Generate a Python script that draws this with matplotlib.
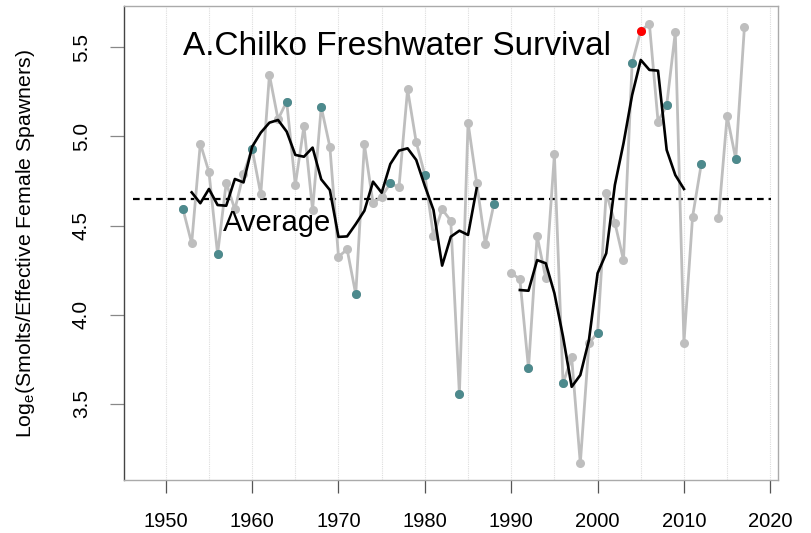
import matplotlib
matplotlib.use("Agg")
import matplotlib.pyplot as plt
import numpy as np

plt.rcParams["font.family"] = ["Liberation Sans", "DejaVu Sans"]
plt.rcParams["mathtext.default"] = "regular"

# observed log survival by brood year (NaN = missing year)
years = np.arange(1952, 2018)
survival = np.array([
    4.59, 4.40, 4.96, 4.80, 4.34, 4.74, 4.59, 4.79, 4.93, 4.675,
    5.345, 5.096, 5.195, 4.727, 5.058, 4.587, 5.165, 4.942, 4.325, 4.366,
    4.114, 4.955, 4.625, 4.662, 4.737, 4.714, 5.264, 4.967, 4.783, 4.441,
    4.591, 4.527, 3.553, 5.077, 4.740, 4.396, 4.621, np.nan, 4.232, 4.200,
    3.698, 4.441, 4.204, 4.899, 3.614, 3.760, 3.166, 3.839, 3.899, 4.684,
    4.516, 4.306, 5.410, 5.593, 5.631, 5.083, 5.174, 5.586, 3.842, 4.549,
    4.843, np.nan, 4.540, 5.114, 4.873, 5.612,
])

# dominant cycle years and highlighted year
dominant_years = np.arange(1952, 2017, 4)
highlight_year = 2005

# running mean (two segments)
smooth_years_a = np.arange(1953, 1987)
smooth_a = np.array([
    4.686, 4.625, 4.705, 4.615, 4.611, 4.761, 4.742, 4.942, 5.021, 5.077,
    5.092, 5.027, 4.896, 4.886, 4.937, 4.759, 4.699, 4.436, 4.439, 4.508,
    4.583, 4.746, 4.684, 4.845, 4.920, 4.933, 4.868, 4.722, 4.587, 4.275,
    4.437, 4.471, 4.447, 4.709,
])
smooth_years_b = np.arange(1991, 2011)
smooth_b = np.array([
    4.138, 4.134, 4.306, 4.288, 4.120, 3.876, 3.595, 3.661, 3.857, 4.232,
    4.344, 4.727, 4.961, 5.232, 5.429, 5.373, 5.369, 4.924, 4.783, 4.705,
])

average = 4.649
x_ticks = [1950, 1960, 1970, 1980, 1990, 2000, 2010, 2020]
y_ticks = [3.5, 4.0, 4.5, 5.0, 5.5]

GREY = "#BEBEBE"
TEAL = "#4D8A8D"

fig = plt.figure(figsize=(8.12, 5.33), dpi=100)
ax = fig.add_axes([0.1531, 0.0994, 0.8047, 0.8888])

for gx in np.arange(1950, 2021, 5):
    ax.axvline(gx, color="#DDDDDD", linewidth=0.8, linestyle=(0, (1, 1)), zorder=0)

ax.hlines(average, 1946.2, 2020.1, color="black", linewidth=1.6,
          linestyles=(0, (3, 2.2)), zorder=2)

ax.plot(years, survival, color=GREY, linewidth=2.0, marker="o",
        markersize=6.5, markeredgewidth=0, zorder=3)

dom_mask = np.isin(years, dominant_years)
ax.plot(years[dom_mask], survival[dom_mask], linestyle="none", marker="o",
        color=TEAL, markersize=6.5, markeredgewidth=0, zorder=4)
hl_mask = years == highlight_year
ax.plot(years[hl_mask], survival[hl_mask], linestyle="none", marker="o",
        color="#FF0000", markersize=6.5, markeredgewidth=0, zorder=4)

ax.plot(smooth_years_a, smooth_a, color="black", linewidth=1.9, zorder=5)
ax.plot(smooth_years_b, smooth_b, color="black", linewidth=1.9, zorder=5)

ax.text(1976.8, 5.505, "A.Chilko Freshwater Survival", fontsize=24,
        ha="center", va="center")
ax.text(1956.6, 4.514, "Average", fontsize=21, ha="left", va="center")

ax.set_xlim(1945.2, 2020.86)
ax.set_ylim(3.072, 5.730)
ax.set_xticks(x_ticks)
ax.set_yticks(y_ticks)
ax.set_yticklabels([f"{v:.1f}" for v in y_ticks], rotation=90, va="center")
ax.tick_params(axis="x", length=9, width=0.9, color="#555555", pad=14,
               labelsize=14.5)
ax.tick_params(axis="y", length=10, width=0.9, color="#888888", pad=14,
               labelsize=15)
for side in ["top", "right", "bottom"]:
    ax.spines[side].set_color("#AAAAAA")
ax.spines["left"].set_color("#444444")
for sp in ax.spines.values():
    sp.set_linewidth(1.0)

ax.set_ylabel("Log$_e$(Smolts/Effective Female Spawners)", fontsize=15.3)
ax.yaxis.set_label_coords(-0.134, 0.5)

fig.savefig("out.png", dpi=100)
